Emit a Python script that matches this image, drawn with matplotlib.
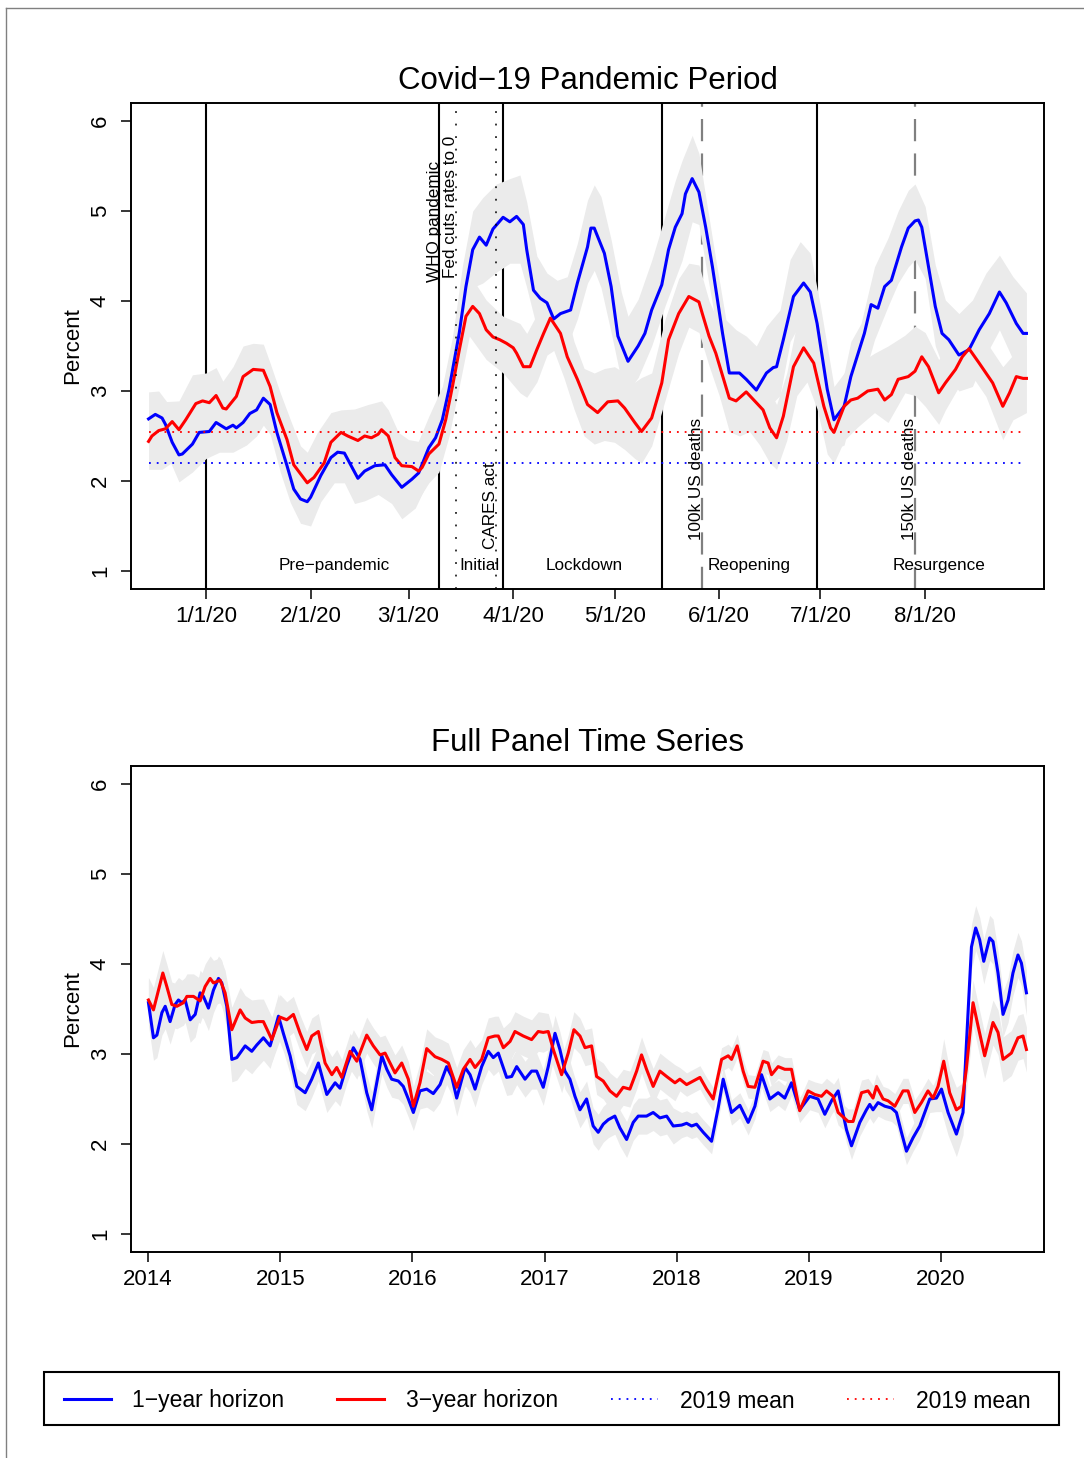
import numpy as np
import pandas as pd
import matplotlib
matplotlib.use("Agg")
import matplotlib.pyplot as plt
from matplotlib.lines import Line2D
from matplotlib.patches import Rectangle

plt.rcParams['font.family'] = ['Liberation Sans', 'DejaVu Sans']

# ---------------- data: Covid-19 panel (x = days since 2020-01-01) ----------------
blue_days = [-17, -15, -13, -12, -10, -8, -7, -4, -2, 1, 3, 6, 8, 9, 11, 13, 15, 17, 19, 21,
             24, 26, 28, 30, 31, 34, 37, 39, 41, 43, 45, 47, 50, 53, 55, 58, 61, 63, 66, 68,
             70, 72, 75, 77, 79, 81, 83, 85, 88, 90, 92, 94, 95, 97, 99, 101, 103, 105, 108, 110,
             113, 114, 115, 118, 120, 122, 125, 128, 130, 132, 135, 137, 139, 141, 142, 144, 146, 148, 150, 153,
             155, 158, 160, 163, 166, 168, 169, 171, 174, 177, 179, 181, 184, 186, 189, 191, 195, 197, 199, 201,
             203, 206, 208, 210, 211, 212, 214, 216, 218, 220, 223, 226, 229, 232, 235, 237, 240, 242, 243]
blue_vals = [2.69, 2.74, 2.70, 2.63, 2.43, 2.29, 2.30, 2.41, 2.54, 2.55, 2.65, 2.58, 2.62, 2.59, 2.65, 2.75, 2.79, 2.92, 2.85, 2.54,
             2.17, 1.91, 1.80, 1.77, 1.82, 2.06, 2.26, 2.32, 2.31, 2.17, 2.03, 2.11, 2.17, 2.18, 2.07, 1.93, 2.02, 2.09, 2.37, 2.48,
             2.68, 3.02, 3.64, 4.16, 4.57, 4.71, 4.62, 4.80, 4.93, 4.88, 4.94, 4.85, 4.57, 4.12, 4.03, 3.98, 3.80, 3.86, 3.90, 4.20,
             4.60, 4.81, 4.81, 4.53, 4.16, 3.61, 3.33, 3.50, 3.64, 3.90, 4.18, 4.57, 4.82, 4.97, 5.19, 5.36, 5.21, 4.82, 4.38, 3.64,
             3.20, 3.20, 3.13, 3.01, 3.20, 3.26, 3.27, 3.57, 4.05, 4.20, 4.10, 3.75, 3.02, 2.68, 2.83, 3.16, 3.64, 3.96, 3.92, 4.16,
             4.23, 4.60, 4.81, 4.89, 4.90, 4.82, 4.38, 3.94, 3.64, 3.57, 3.40, 3.46, 3.68, 3.86, 4.10, 3.98, 3.75, 3.64, 3.64]

red_days = [-17, -16, -14, -12, -10, -8, -6, -3, -1, 1, 3, 5, 6, 9, 11, 14, 17, 19, 21, 24,
            26, 30, 32, 35, 37, 40, 42, 45, 47, 49, 51, 52, 54, 56, 58, 61, 63, 64, 66, 69,
            71, 73, 75, 77, 79, 81, 83, 85, 87, 89, 91, 92, 94, 96, 98, 100, 102, 105, 107, 110,
            113, 116, 119, 122, 124, 127, 129, 132, 135, 137, 140, 143, 146, 147, 149, 151, 155, 157, 160, 163,
            165, 167, 169, 171, 174, 177, 180, 183, 185, 186, 189, 191, 193, 196, 199, 201, 203, 205, 208, 210,
            212, 214, 217, 219, 222, 224, 226, 229, 233, 236, 238, 240, 242, 243]
red_vals = [2.44, 2.50, 2.56, 2.58, 2.66, 2.57, 2.68, 2.86, 2.89, 2.87, 2.95, 2.81, 2.80, 2.94, 3.16, 3.24, 3.23, 3.05, 2.76, 2.46,
            2.18, 1.98, 2.04, 2.20, 2.43, 2.54, 2.50, 2.45, 2.50, 2.48, 2.52, 2.57, 2.50, 2.26, 2.17, 2.16, 2.11, 2.15, 2.30, 2.41,
            2.68, 3.05, 3.45, 3.83, 3.94, 3.86, 3.68, 3.60, 3.57, 3.53, 3.48, 3.42, 3.27, 3.27, 3.46, 3.64, 3.81, 3.64, 3.38, 3.13,
            2.85, 2.76, 2.88, 2.89, 2.81, 2.65, 2.55, 2.70, 3.09, 3.57, 3.86, 4.05, 3.99, 3.86, 3.61, 3.42, 2.92, 2.89, 2.99, 2.87,
            2.79, 2.59, 2.48, 2.72, 3.27, 3.48, 3.31, 2.83, 2.59, 2.54, 2.83, 2.90, 2.92, 3.00, 3.02, 2.90, 2.96, 3.13, 3.16, 3.22,
            3.38, 3.27, 2.98, 3.09, 3.24, 3.38, 3.47, 3.31, 3.09, 2.83, 2.98, 3.16, 3.14, 3.14]

# confidence bands (lower / upper) for the Covid panel
blue_band_days = [-17, -14, -11, -8, -4, 0, 4, 8, 12, 15, 17, 19, 22, 25, 28, 31, 34, 38, 41, 44,
                  47, 51, 55, 58, 62, 66, 70, 73, 76, 79, 82, 86, 90, 93, 95, 98, 101, 104, 107, 110,
                  113, 115, 117, 120, 123, 125, 128, 132, 136, 139, 141, 144, 146, 148, 151, 154, 157, 160, 163, 166,
                  170, 173, 176, 179, 182, 186, 189, 191, 194, 198, 202, 205, 208, 210, 213, 216, 219, 223, 227, 231,
                  235, 239, 243]
blue_band_lo = [2.39, 2.42, 2.25, 1.99, 2.10, 2.25, 2.32, 2.32, 2.40, 2.50, 2.62, 2.52, 2.10, 1.76, 1.53, 1.50, 1.77, 1.98, 1.98, 1.75,
                1.78, 1.85, 1.75, 1.58, 1.70, 2.02, 2.30, 2.75, 3.50, 4.15, 4.20, 4.32, 4.42, 4.42, 4.15, 3.70, 3.57, 3.48, 3.50, 3.80,
                4.20, 4.34, 4.15, 3.65, 3.12, 3.00, 3.15, 3.50, 3.95, 4.25, 4.45, 4.88, 4.85, 4.40, 3.75, 3.00, 2.80, 2.75, 2.60, 2.80,
                2.95, 3.55, 3.75, 3.65, 3.00, 2.35, 2.40, 2.72, 3.05, 3.57, 3.94, 4.20, 4.38, 4.46, 4.25, 3.50, 3.20, 3.00, 3.05, 3.40,
                3.68, 3.35, 3.22]
blue_band_hi = [2.99, 3.00, 2.85, 2.60, 2.71, 2.85, 2.92, 2.92, 3.00, 3.10, 3.22, 3.15, 2.75, 2.35, 2.10, 2.12, 2.36, 2.60, 2.62, 2.38,
                2.42, 2.48, 2.38, 2.25, 2.36, 2.72, 3.05, 3.60, 4.40, 5.00, 5.15, 5.30, 5.36, 5.40, 5.10, 4.50, 4.31, 4.23, 4.27, 4.64,
                5.12, 5.29, 5.16, 4.68, 4.10, 3.83, 4.02, 4.45, 4.95, 5.34, 5.56, 5.84, 5.64, 5.16, 4.46, 3.79, 3.68, 3.61, 3.50, 3.72,
                3.90, 4.46, 4.66, 4.53, 3.94, 3.05, 3.20, 3.55, 3.75, 4.38, 4.70, 5.00, 5.23, 5.30, 5.05, 4.40, 4.01, 3.86, 4.01, 4.31,
                4.51, 4.27, 4.09]

red_band_days = [-17, -13, -8, -4, 0, 3, 5, 8, 11, 14, 17, 19, 22, 25, 28, 30, 33, 37, 40, 44,
                 48, 52, 54, 57, 60, 63, 66, 69, 72, 75, 78, 83, 88, 93, 95, 98, 101, 103, 106, 109,
                 112, 115, 118, 121, 124, 127, 129, 132, 136, 140, 143, 146, 149, 152, 155, 158, 161, 164, 167, 169,
                 172, 175, 178, 181, 184, 186, 189, 193, 198, 202, 207, 210, 213, 217, 219, 223, 227, 231, 236, 239,
                 243]
red_band_lo = [2.13, 2.13, 2.26, 2.50, 2.55, 2.63, 2.50, 2.60, 2.85, 2.94, 2.90, 2.75, 2.40, 2.05, 1.75, 1.68, 1.80, 2.13, 2.22, 2.13,
               2.16, 2.25, 2.18, 1.90, 1.84, 1.80, 1.98, 2.10, 2.50, 3.05, 3.61, 3.35, 3.20, 2.98, 2.93, 3.10, 3.40, 3.45, 3.15, 2.80,
               2.50, 2.41, 2.45, 2.43, 2.35, 2.25, 2.20, 2.39, 2.90, 3.42, 3.71, 3.65, 3.28, 2.95, 2.55, 2.50, 2.55, 2.40, 2.20, 2.13,
               2.45, 2.95, 3.10, 2.80, 2.30, 2.20, 2.45, 2.60, 2.76, 2.65, 2.98, 2.95, 2.83, 2.63, 2.79, 3.05, 3.16, 2.94, 2.46, 2.68,
               2.76]
red_band_hi = [2.78, 2.88, 2.89, 3.18, 3.20, 3.26, 3.11, 3.27, 3.50, 3.53, 3.52, 3.31, 2.98, 2.68, 2.39, 2.32, 2.54, 2.76, 2.79, 2.80,
               2.85, 2.89, 2.79, 2.54, 2.46, 2.44, 2.68, 2.87, 3.27, 3.85, 4.30, 4.01, 3.83, 3.75, 3.64, 3.85, 4.10, 4.20, 4.00, 3.55,
               3.25, 3.20, 3.25, 3.27, 3.20, 3.10, 3.15, 3.20, 3.80, 4.25, 4.42, 4.40, 4.00, 3.75, 3.35, 3.30, 3.40, 3.25, 3.00, 2.85,
               3.20, 3.75, 3.85, 3.55, 3.00, 2.90, 3.20, 3.30, 3.42, 3.50, 3.62, 3.72, 3.65, 3.35, 3.45, 3.65, 3.80, 3.55, 3.27, 3.40,
               3.50]

mean_2019_blue = 2.20
mean_2019_red = 2.54

month_ticks = ['2020-01-01', '2020-02-01', '2020-03-01', '2020-04-01',
               '2020-05-01', '2020-06-01', '2020-07-01', '2020-08-01']
month_labels = ['1/1/20', '2/1/20', '3/1/20', '4/1/20', '5/1/20', '6/1/20', '7/1/20', '8/1/20']

period_bounds = ['2020-01-01', '2020-03-10', '2020-03-29', '2020-05-15', '2020-06-30']
period_names = ['Pre\u2212pandemic', 'Initial', 'Lockdown', 'Reopening', 'Resurgence']
period_label_days = [38, 81, 112, 161, 217]

policy_events = ['2020-03-15', '2020-03-27']
death_events = ['2020-05-27', '2020-07-29']

# ---------------- data: full panel (x = decimal year) ----------------
full_blue_year = [2014.002, 2014.040, 2014.066, 2014.104, 2014.129, 2014.166, 2014.204, 2014.229, 2014.255, 2014.280,
                  2014.318, 2014.356, 2014.393, 2014.418, 2014.456, 2014.494, 2014.532, 2014.557, 2014.595, 2014.633,
                  2014.671, 2014.734, 2014.784, 2014.822, 2014.872, 2014.923, 2014.986, 2015.023, 2015.074, 2015.125,
                  2015.188, 2015.238, 2015.288, 2015.352, 2015.415, 2015.452, 2015.503, 2015.553, 2015.604, 2015.654,
                  2015.692, 2015.730, 2015.768, 2015.806, 2015.843, 2015.893, 2015.931, 2015.969, 2016.007, 2016.057,
                  2016.108, 2016.158, 2016.209, 2016.259, 2016.297, 2016.335, 2016.398, 2016.436, 2016.474, 2016.524,
                  2016.574, 2016.612, 2016.650, 2016.713, 2016.751, 2016.789, 2016.852, 2016.902, 2016.940, 2016.990,
                  2017.028, 2017.079, 2017.116, 2017.154, 2017.192, 2017.230, 2017.268, 2017.318, 2017.368, 2017.406,
                  2017.444, 2017.482, 2017.532, 2017.570, 2017.621, 2017.671, 2017.709, 2017.772, 2017.822, 2017.873,
                  2017.924, 2017.974, 2018.037, 2018.075, 2018.113, 2018.150, 2018.201, 2018.264, 2018.314, 2018.352,
                  2018.415, 2018.478, 2018.541, 2018.592, 2018.642, 2018.705, 2018.768, 2018.818, 2018.869, 2018.931,
                  2019.007, 2019.070, 2019.121, 2019.172, 2019.222, 2019.285, 2019.323, 2019.386, 2019.436, 2019.461,
                  2019.486, 2019.524, 2019.575, 2019.626, 2019.663, 2019.701, 2019.739, 2019.789, 2019.840, 2019.915,
                  2019.966, 2020.004, 2020.054, 2020.117, 2020.167, 2020.192, 2020.231, 2020.263, 2020.293, 2020.324,
                  2020.369, 2020.394, 2020.432, 2020.470, 2020.508, 2020.545, 2020.583, 2020.609, 2020.647]
full_blue_vals = [3.57, 3.18, 3.21, 3.46, 3.53, 3.36, 3.55, 3.60, 3.57, 3.60,
                  3.38, 3.44, 3.68, 3.64, 3.51, 3.71, 3.84, 3.79, 3.53, 2.94,
                  2.96, 3.09, 3.03, 3.10, 3.18, 3.09, 3.42, 3.23, 2.98, 2.64,
                  2.57, 2.72, 2.90, 2.55, 2.68, 2.62, 2.87, 3.07, 2.94, 2.57,
                  2.38, 2.68, 2.98, 2.83, 2.72, 2.70, 2.64, 2.50, 2.35, 2.59,
                  2.61, 2.56, 2.66, 2.86, 2.75, 2.51, 2.85, 2.77, 2.61, 2.86,
                  3.03, 2.96, 3.01, 2.74, 2.75, 2.86, 2.72, 2.81, 2.81, 2.63,
                  2.86, 3.23, 3.05, 2.81, 2.72, 2.53, 2.38, 2.50, 2.20, 2.13,
                  2.22, 2.27, 2.31, 2.18, 2.05, 2.24, 2.31, 2.31, 2.35, 2.29,
                  2.31, 2.20, 2.21, 2.23, 2.20, 2.22, 2.13, 2.03, 2.40, 2.72,
                  2.35, 2.43, 2.24, 2.42, 2.77, 2.50, 2.57, 2.51, 2.68, 2.38,
                  2.53, 2.50, 2.33, 2.48, 2.59, 2.16, 1.98, 2.24, 2.38, 2.44,
                  2.38, 2.46, 2.42, 2.40, 2.35, 2.13, 1.92, 2.07, 2.20, 2.50,
                  2.51, 2.61, 2.35, 2.11, 2.35, 3.09, 4.19, 4.40, 4.27, 4.03,
                  4.29, 4.25, 3.90, 3.44, 3.60, 3.90, 4.10, 4.01, 3.68]

full_red_year = [2014.002, 2014.040, 2014.078, 2014.111, 2014.141, 2014.179, 2014.217, 2014.267, 2014.293, 2014.343,
                 2014.393, 2014.431, 2014.469, 2014.494, 2014.545, 2014.582, 2014.633, 2014.696, 2014.734, 2014.784,
                 2014.834, 2014.872, 2014.936, 2014.998, 2015.049, 2015.099, 2015.150, 2015.200, 2015.238, 2015.288,
                 2015.339, 2015.390, 2015.427, 2015.465, 2015.528, 2015.579, 2015.654, 2015.704, 2015.755, 2015.793,
                 2015.868, 2015.919, 2015.969, 2016.007, 2016.057, 2016.108, 2016.171, 2016.222, 2016.272, 2016.335,
                 2016.385, 2016.436, 2016.474, 2016.524, 2016.574, 2016.624, 2016.650, 2016.688, 2016.739, 2016.776,
                 2016.839, 2016.902, 2016.952, 2016.990, 2017.028, 2017.066, 2017.129, 2017.179, 2017.222, 2017.268,
                 2017.306, 2017.356, 2017.394, 2017.444, 2017.495, 2017.545, 2017.595, 2017.646, 2017.697, 2017.734,
                 2017.772, 2017.822, 2017.873, 2017.924, 2017.987, 2018.024, 2018.075, 2018.125, 2018.176, 2018.226,
                 2018.276, 2018.340, 2018.390, 2018.415, 2018.458, 2018.503, 2018.541, 2018.592, 2018.654, 2018.692,
                 2018.718, 2018.768, 2018.818, 2018.869, 2018.931, 2018.995, 2019.045, 2019.096, 2019.134, 2019.184,
                 2019.222, 2019.298, 2019.335, 2019.399, 2019.449, 2019.486, 2019.512, 2019.562, 2019.600, 2019.651,
                 2019.713, 2019.751, 2019.802, 2019.852, 2019.902, 2019.940, 2019.978, 2020.021, 2020.066, 2020.117,
                 2020.155, 2020.192, 2020.243, 2020.281, 2020.331, 2020.394, 2020.432, 2020.470, 2020.533, 2020.583,
                 2020.621, 2020.647]
full_red_vals = [3.60, 3.49, 3.71, 3.90, 3.75, 3.55, 3.53, 3.57, 3.64, 3.64,
                 3.59, 3.75, 3.84, 3.79, 3.82, 3.68, 3.27, 3.49, 3.40, 3.35,
                 3.36, 3.36, 3.16, 3.41, 3.38, 3.44, 3.23, 3.05, 3.20, 3.25,
                 2.90, 2.77, 2.85, 2.74, 3.03, 2.92, 3.21, 3.09, 2.99, 3.01,
                 2.79, 2.90, 2.72, 2.42, 2.68, 3.06, 2.97, 2.94, 2.90, 2.63,
                 2.83, 2.94, 2.85, 2.94, 3.18, 3.20, 3.20, 3.07, 3.14, 3.25,
                 3.20, 3.16, 3.25, 3.24, 3.25, 3.05, 2.77, 3.01, 3.27, 3.20,
                 3.07, 3.09, 2.75, 2.70, 2.59, 2.53, 2.63, 2.61, 2.81, 2.99,
                 2.83, 2.64, 2.81, 2.75, 2.68, 2.72, 2.66, 2.70, 2.74, 2.61,
                 2.50, 2.94, 2.98, 2.94, 3.09, 2.81, 2.64, 2.63, 2.92, 2.90,
                 2.77, 2.86, 2.83, 2.83, 2.37, 2.59, 2.55, 2.53, 2.59, 2.53,
                 2.35, 2.25, 2.25, 2.57, 2.59, 2.51, 2.64, 2.50, 2.48, 2.42,
                 2.59, 2.59, 2.35, 2.46, 2.59, 2.51, 2.64, 2.92, 2.57, 2.38,
                 2.42, 2.83, 3.57, 3.31, 2.98, 3.35, 3.24, 2.94, 3.01, 3.18,
                 3.20, 3.05]

# band half-width by calendar year (full panel)
band_years = [2014, 2015, 2016, 2017, 2018, 2019, 2020]
full_blue_hw = [0.25, 0.20, 0.20, 0.20, 0.14, 0.15, 0.25]
full_red_hw = [0.25, 0.20, 0.22, 0.20, 0.13, 0.14, 0.25]

year_ticks = [2014, 2015, 2016, 2017, 2018, 2019, 2020]
y_ticks = [1, 2, 3, 4, 5, 6]

legend_labels = ['1\u2212year horizon', '3\u2212year horizon', '2019 mean', '2019 mean']

# ---------------- styling ----------------
BLUE = '#0000FF'
RED = '#FF0000'
BAND = '#EBEBEB'
W, H = 1084, 1458
TICK_FS = 16
LEG_FS = 16.5
SMALL_FS = 12.3
TITLE_FS = 22.5
DOT = (0, (1.0, 3.3))

fig = plt.figure(figsize=(W / 100, H / 100), dpi=100)


def fx(px):
    return px / W


def fy(py):
    return 1 - py / H


ax1 = fig.add_axes([fx(131), fy(589), (1044 - 131) / W, (589 - 103) / H])
ax2 = fig.add_axes([fx(131), fy(1252), (1044 - 131) / W, (1252 - 766) / H])

base = pd.Timestamp('2020-01-01')


def dnum(s):
    return (pd.Timestamp(s) - base).days


def style_axes(ax):
    for sp in ax.spines.values():
        sp.set_linewidth(1.4)
        sp.set_color('black')
    ax.set_ylim(0.8, 6.2)
    ax.set_yticks(y_ticks)
    ax.set_yticklabels([str(v) for v in y_ticks], rotation=90, va='center')
    ax.tick_params(axis='both', length=7.5, width=1.1, labelsize=TICK_FS, color='black')
    ax.tick_params(axis='y', pad=7)
    ax.tick_params(axis='x', pad=5)


# ---------------- top panel ----------------
bd = np.array(blue_days)
rd = np.array(red_days)
x0, x1 = blue_days[0], blue_days[-1]

for d in period_bounds:
    ax1.axvline(dnum(d), color='black', lw=1.5, zorder=1)
for d in death_events:
    ax1.axvline(dnum(d), color='#808080', lw=1.6, linestyle=(0, (10, 5.5)), zorder=1)

ax1.fill_between(blue_band_days, blue_band_lo, blue_band_hi, color=BAND, lw=0, zorder=2)
ax1.fill_between(red_band_days, red_band_lo, red_band_hi, color=BAND, lw=0, zorder=2)

ax1.plot(bd, blue_vals, color=BLUE, lw=2.2, zorder=3, solid_joinstyle='round')
ax1.plot(rd, red_vals, color=RED, lw=2.2, zorder=3, solid_joinstyle='round')

for d in policy_events:
    ax1.axvline(dnum(d), color='black', lw=1.1, linestyle=(0, (1.2, 7)), zorder=4)
ax1.hlines(mean_2019_blue, x0, x1, colors=BLUE, lw=1.3, linestyles=[DOT], zorder=4)
ax1.hlines(mean_2019_red, x0, x1, colors=RED, lw=1.3, linestyles=[DOT], zorder=4)

for name, xd in zip(period_names, period_label_days):
    ax1.text(xd, 1.057, name, ha='center', va='center', fontsize=SMALL_FS, zorder=5)

ev_kw = dict(rotation=90, rotation_mode='anchor', ha='left', va='baseline', fontsize=SMALL_FS, zorder=5)
ax1.text(68.9, 4.21, 'WHO pandemic', **ev_kw)
ax1.text(73.7, 4.25, 'Fed cuts rates to 0', **ev_kw)
ax1.text(85.6, 1.24, 'CARES act', **ev_kw)
ax1.text(146.6, 1.34, '100k US deaths', **ev_kw)
ax1.text(209.7, 1.34, '150k US deaths', **ev_kw)

ax1.set_xlim(-22.2, 248.2)
ax1.set_xticks([dnum(m) for m in month_ticks])
ax1.set_xticklabels(month_labels)
style_axes(ax1)
ax1.text(0.5, 1.0452, 'Covid\u221219 Pandemic Period', transform=ax1.transAxes,
         ha='center', va='center', fontsize=TITLE_FS)

# ---------------- bottom panel ----------------
fby = np.array(full_blue_year)
fry = np.array(full_red_year)
fbv = np.array(full_blue_vals)
frv = np.array(full_red_vals)
bhw = np.array(full_blue_hw)[np.searchsorted(band_years, fby, side='right') - 1]
rhw = np.array(full_red_hw)[np.searchsorted(band_years, fry, side='right') - 1]

ax2.fill_between(fby, fbv - bhw, fbv + bhw, color=BAND, lw=0, zorder=2)
ax2.fill_between(fry, frv - rhw, frv + rhw, color=BAND, lw=0, zorder=2)
ax2.plot(fby, fbv, color=BLUE, lw=2.2, zorder=3)
ax2.plot(fry, frv, color=RED, lw=2.2, zorder=3)

ax2.set_xlim(2013.87, 2020.78)
ax2.set_xticks(year_ticks)
ax2.set_xticklabels([str(y) for y in year_ticks])
style_axes(ax2)
ax2.text(0.5, 1.0473, 'Full Panel Time Series', transform=ax2.transAxes,
         ha='center', va='center', fontsize=TITLE_FS)

# y labels
for yc in (346, 1009):
    fig.text(fx(73), fy(yc), 'Percent', rotation=90, ha='center', va='center', fontsize=TICK_FS)

# ---------------- legend ----------------
handles = [Line2D([], [], color=BLUE, lw=2.2),
           Line2D([], [], color=RED, lw=2.2),
           Line2D([], [], color=BLUE, lw=1.3, linestyle=DOT),
           Line2D([], [], color=RED, lw=1.3, linestyle=DOT)]
fig.legend(handles, legend_labels, loc='center', bbox_to_anchor=(fx(547), fy(1401)),
           ncol=4, frameon=False, fontsize=LEG_FS, handlelength=2.05, handletextpad=0.95,
           columnspacing=2.3)
fig.add_artist(Rectangle((fx(44), fy(1425)), (1059 - 44) / W, (1425 - 1372) / H,
                         transform=fig.transFigure, fill=False, edgecolor='black', lw=1.5))

# outer frame
fig.add_artist(Line2D([fx(6), fx(1084)], [fy(8), fy(8)], transform=fig.transFigure, color='#808080', lw=1))
fig.add_artist(Line2D([fx(6), fx(6)], [fy(8), fy(1458)], transform=fig.transFigure, color='#808080', lw=1))

fig.savefig('out.png', dpi=100)
